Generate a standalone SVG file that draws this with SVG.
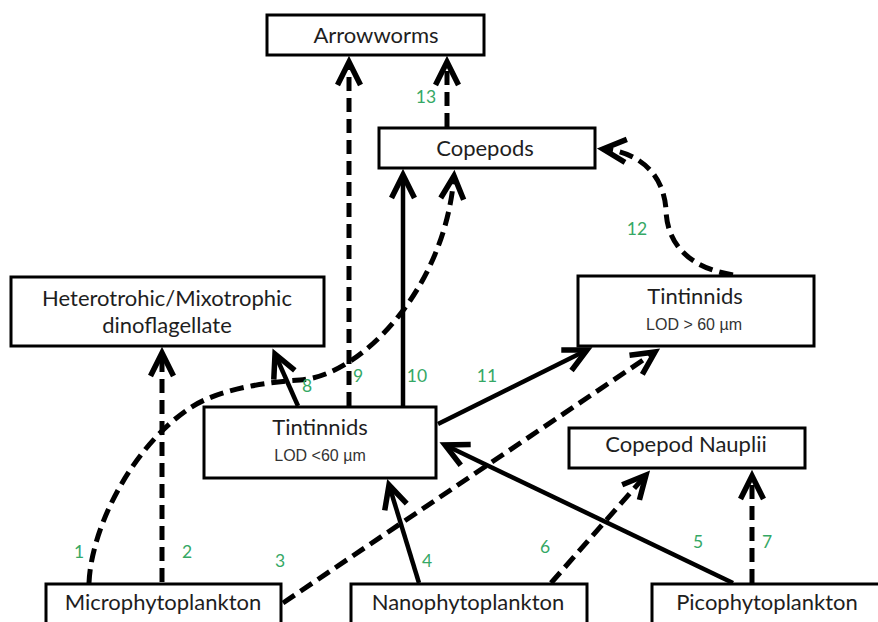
<svg xmlns="http://www.w3.org/2000/svg" width="878" height="622" viewBox="0 0 878 622">
  <style>
    .box { fill: #ffffff; stroke: #000000; stroke-width: 3; }
    .name { font-family: Lato, "Open Sans", sans-serif; font-size: 22px; fill: #1e1e1e; text-anchor: middle; }
    .lod { font-family: "Liberation Sans", Arial, sans-serif; font-size: 16px; fill: #333333; text-anchor: middle; }
    .num { font-family: Lato, "Open Sans", sans-serif; font-size: 17.5px; fill: #35a865; text-anchor: middle; }
    .solid { fill: none; stroke: #000000; stroke-width: 4.5; marker-end: url(#chev); }
    .dash { fill: none; stroke: #000000; stroke-width: 5; stroke-dasharray: 14 7; marker-end: url(#chev); }
  </style>
  <defs>
    <!-- open chevron arrowhead -->
    <marker id="chev" markerUnits="userSpaceOnUse" markerWidth="40" markerHeight="40" viewBox="-30 -20 40 40" refX="0" refY="0" orient="auto" overflow="visible">
      <path d="M -23 -11.5 L 0 0 L -23 11.5" fill="none" stroke="#000000" stroke-width="5.5" stroke-dasharray="none" stroke-linejoin="miter"/>
    </marker>
  </defs>

  <rect width="878" height="622" fill="#ffffff"/>

  <!-- connectors -->
  <g id="connectors">
    <!-- 1: Microphytoplankton to Copepods -->
    <path id="e1" class="dash" d="M 89 583 C 91 530, 130 448, 190 408 C 220 388, 270 382, 300 380 C 360 376, 445 290, 454 176"/>
    <!-- 2: Microphytoplankton to dinoflagellate -->
    <path id="e2" class="dash" d="M 162 582 V 353"/>
    <!-- 3: Microphytoplankton to large tintinnids -->
    <path id="e3" class="dash" d="M 283 603 L 655 352"/>
    <!-- 4: Nanophytoplankton to small tintinnids -->
    <path id="e4" class="solid" d="M 419 583 L 389 485"/>
    <!-- 5: Picophytoplankton to small tintinnids -->
    <path id="e5" class="solid" d="M 733 583 L 445 445"/>
    <!-- 6: Nanophytoplankton to nauplii -->
    <path id="e6" class="dash" d="M 551 583 L 646 475"/>
    <!-- 7: Picophytoplankton to nauplii -->
    <path id="e7" class="dash" d="M 752 583 V 476"/>
    <!-- 8: small tintinnids to dinoflagellate -->
    <path id="e8" class="solid" d="M 298 406 L 275 354"/>
    <!-- 9: small tintinnids to arrowworms -->
    <path id="e9" class="dash" d="M 349 406 V 62"/>
    <!-- 10: small tintinnids to copepods -->
    <path id="e10" class="solid" d="M 403 406 V 175"/>
    <!-- 11: small tintinnids to large tintinnids -->
    <path id="e11" class="solid" d="M 438 424 L 587 350"/>
    <!-- 12: large tintinnids to copepods -->
    <path id="e12" class="dash" d="M 733 275 C 690 268, 667 245, 666 210 C 664 175, 640 152, 603 149"/>
    <!-- 13: copepods to arrowworms -->
    <path id="e13" class="dash" d="M 447 127 V 62"/>
  </g>

  <!-- flow numbers -->
  <g id="flow-numbers">
    <text class="num" x="79" y="558">1</text>
    <text class="num" x="187" y="558">2</text>
    <text class="num" x="280" y="567">3</text>
    <text class="num" x="427" y="567">4</text>
    <text class="num" x="698" y="548">5</text>
    <text class="num" x="545" y="553">6</text>
    <text class="num" x="767" y="548">7</text>
    <text class="num" x="307" y="392">8</text>
    <text class="num" x="358" y="382">9</text>
    <text class="num" x="417" y="382">10</text>
    <text class="num" x="487" y="382">11</text>
    <text class="num" x="637" y="235">12</text>
    <text class="num" x="426" y="103">13</text>
  </g>

  <!-- nodes -->
  <g id="arrowworms">
    <rect class="box" x="267" y="15" width="217" height="40"/>
    <text class="name" x="376" y="43">Arrowworms</text>
  </g>
  <g id="copepods">
    <rect class="box" x="379" y="128" width="216" height="40"/>
    <text class="name" x="485" y="156">Copepods</text>
  </g>
  <g id="dinoflagellate">
    <rect class="box" x="11" y="277" width="313" height="69"/>
    <text class="name" x="167" y="306">Heterotrohic/Mixotrophic</text>
    <text class="name" x="167" y="333">dinoflagellate</text>
  </g>
  <g id="tintinnids-large">
    <rect class="box" x="578" y="276" width="236" height="70"/>
    <text class="name" x="695" y="304">Tintinnids</text>
    <text class="lod" x="694" y="330">LOD &gt; 60  µm</text>
  </g>
  <g id="tintinnids-small">
    <rect class="box" x="204" y="407" width="232" height="71"/>
    <text class="name" x="320" y="435">Tintinnids</text>
    <text class="lod" x="320" y="461">LOD &lt;60 µm</text>
  </g>
  <g id="copepod-nauplii">
    <rect class="box" x="569" y="428" width="236" height="40"/>
    <text class="name" x="686" y="452">Copepod  Nauplii</text>
  </g>
  <g id="microphytoplankton">
    <rect class="box" x="46" y="584" width="235" height="50"/>
    <text class="name" x="163" y="610">Microphytoplankton</text>
  </g>
  <g id="nanophytoplankton">
    <rect class="box" x="351" y="584" width="236" height="50"/>
    <text class="name" x="468" y="610">Nanophytoplankton</text>
  </g>
  <g id="picophytoplankton">
    <rect class="box" x="652" y="584" width="240" height="50"/>
    <text class="name" x="767" y="610">Picophytoplankton</text>
  </g>
</svg>
